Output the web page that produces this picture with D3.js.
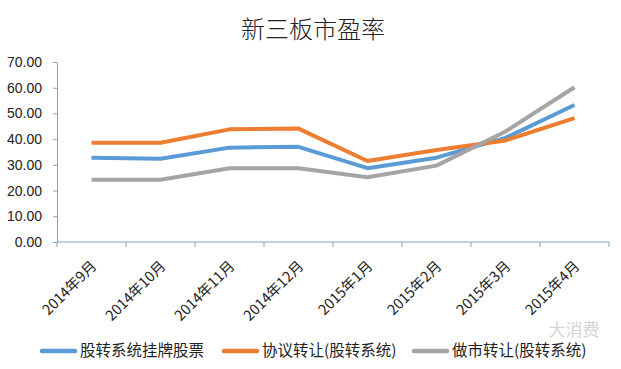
<!DOCTYPE html>
<html><head><meta charset="utf-8">
<script src="https://cdn.jsdelivr.net/npm/d3@7"></script>
<style>body{margin:0;background:#fff;}svg{display:block;}</style>
</head><body>
<script>
const categories = ["2014年9月","2014年10月","2014年11月","2014年12月","2015年1月","2015年2月","2015年3月","2015年4月"];
const seriesNames = ["股转系统挂牌股票","协议转让(股转系统)","做市转让(股转系统)"];
const blueValues = [32.8, 32.4, 36.7, 37.0, 28.7, 32.8, 40.5, 53.3];
const orangeValues = [38.6, 38.6, 43.8, 44.1, 31.5, 35.8, 39.5, 48.2];
const grayValues = [24.2, 24.2, 28.7, 28.7, 25.2, 29.7, 43.0, 60.2];
const yTicks = [0,10,20,30,40,50,60,70];
const colors = ["#5b9bd5","#ed7d31","#a5a5a5"];
const series = [blueValues, orangeValues, grayValues];

const W = 621, H = 369;
const svg = d3.select("body").append("svg").attr("width", W).attr("height", H);
const font = "'Noto Sans CJK SC', 'Noto Sans', sans-serif";

svg.append("text").attr("x", 313).attr("y", 38).attr("text-anchor","middle")
  .attr("font-family", font).attr("font-size", 24).attr("font-weight", 300).attr("fill","#222").text("新三板市盈率");

const x = d3.scaleBand().domain(categories).range([57, 609]);
const y = d3.scaleLinear().domain([0,70]).range([242, 62]);
const axisColor = "#86a3bc";

// y axis
const ya = svg.append("g").attr("transform","translate(57,0)")
  .call(d3.axisLeft(y).tickValues(yTicks).tickFormat(d3.format(".2f")).tickSize(4).tickSizeOuter(0));
ya.select(".domain").attr("stroke", axisColor);
ya.selectAll(".tick line").attr("stroke", axisColor);
ya.selectAll(".tick text").attr("font-family","'Liberation Sans', Arial, sans-serif").attr("font-size",14).attr("fill","#222").attr("x",-15);

// x axis
const xa = svg.append("g").attr("transform","translate(0,242)")
  .call(d3.axisBottom(x).tickSize(0).tickFormat(""));
xa.select(".domain").attr("stroke", axisColor).attr("d", "M57,0H609");
xa.selectAll(".tick").remove();
const tickPos = categories.map(c => x(c)).concat([x.range()[1]]);
xa.selectAll("line.tk").data(tickPos).enter().append("line").attr("class","tk")
  .attr("x1", d=>d).attr("x2", d=>d).attr("y1",0).attr("y2",5).attr("stroke", axisColor);

svg.append("g").selectAll("text").data(categories).enter().append("text")
  .attr("transform", d => `translate(${x(d)+x.bandwidth()/2+6},${267}) rotate(-45)`)
  .attr("text-anchor","end").attr("font-family", font).attr("font-size",14.5).attr("fill","#222")
  .text(d=>d);

const line = d3.line().x((d,i)=>x(categories[i])+x.bandwidth()/2).y(d=>y(d));
series.forEach((s,i)=>{
  svg.append("path").datum(s).attr("d", line).attr("fill","none")
    .attr("stroke", colors[i]).attr("stroke-width",4).attr("stroke-linejoin","round");
});

// legend
const legX = [40, 222, 412];
seriesNames.forEach((n,i)=>{
  svg.append("line").attr("x1",legX[i]+2).attr("x2",legX[i]+35).attr("y1",351).attr("y2",351)
    .attr("stroke",colors[i]).attr("stroke-width",4.5).attr("stroke-linecap","round");
  svg.append("text").attr("x",legX[i]+40).attr("y",356).attr("font-family",font)
    .attr("font-size",15.5).attr("fill","#222").text(n);
});

// watermark
svg.append("text").attr("x",574).attr("y",336).attr("text-anchor","middle").attr("font-family",font)
  .attr("font-size",17).attr("fill","#d4d4d4").text("大消费");
</script>
</body></html>
